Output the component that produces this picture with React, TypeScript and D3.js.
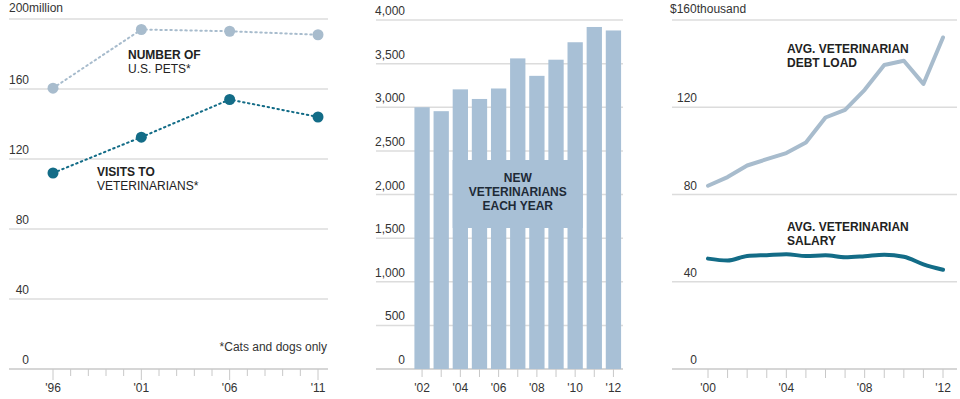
import React from 'react';
import * as d3 from 'd3';

// panel 1: pets and vet visits (millions)
const petYears = [1996, 2001, 2006, 2011];
const petsCount = [160.5, 194, 193, 191];
const vetVisits = [112, 132.5, 154, 144];
const petTicks = [0, 40, 80, 120, 160, 200];

// panel 2: new veterinarians per year
const gradYears = [2002, 2003, 2004, 2005, 2006, 2007, 2008, 2009, 2010, 2011, 2012];
const newVets = [3000, 2955, 3205, 3095, 3215, 3560, 3360, 3545, 3745, 3920, 3880];
const gradTicks = [0, 500, 1000, 1500, 2000, 2500, 3000, 3500, 4000];

// panel 3: debt and salary (thousands $)
const moneyYears = [2000, 2001, 2002, 2003, 2004, 2005, 2006, 2007, 2008, 2009, 2010, 2011, 2012];
const debtLoad = [84, 88, 93.3, 96.2, 99, 103.8, 115.3, 118.8, 128, 139.4, 141.3, 130.7, 152];
const salary = [50.6, 49.7, 51.8, 52.2, 52.6, 51.8, 52.1, 51.2, 51.7, 52.4, 51.5, 48, 45.5];
const moneyTicks = [0, 40, 80, 120, 160];

const FONT = 'Helvetica, Arial, "Liberation Sans", sans-serif';
const GRID = '#dcdcdc';
const AXIS = '#c8c8c8';
const TXT = '#333';
const LIGHT = '#a8bccd';
const DARK = '#136c87';
const BAR = '#a8c0d6';

const yBase = 369;
const yTop = 20;

const fmtYear = (y: number) => "'" + String(y).slice(2);

function YGrid({ y, ticks, x0, x1, labelX, skipTop, fmt }: any) {
  return (
    <g>
      {ticks.map((t: number, i: number) => (
        <g key={t}>
          {i > 0 && <line x1={x0} x2={x1} y1={y(t)} y2={y(t)} stroke={GRID} strokeWidth={1.5} />}
          {!(skipTop && i === ticks.length - 1) && (
            <text x={labelX} y={y(t) - 5} textAnchor="end" fontSize={12} fill={TXT}>
              {fmt ? fmt(t) : t}
            </text>
          )}
        </g>
      ))}
      <line x1={x0} x2={x1} y1={yBase} y2={yBase} stroke={AXIS} strokeWidth={1.5} />
    </g>
  );
}

function PetsPanel() {
  const x = d3.scaleLinear().domain([1996, 2011]).range([53, 318]);
  const y = d3.scaleLinear().domain([0, 200]).range([yBase, yTop - 1]);
  const line = d3.line<number>().x((_, i) => x(petYears[i])).y(d => y(d));
  const years = d3.range(1996, 2012);
  return (
    <g>
      <YGrid y={y} ticks={petTicks} x0={9} x1={328} labelX={29} skipTop />
      <text x={9} y={y(200) - 7} fontSize={12} fill={TXT}>200million</text>
      {years.map(yr => (
        <line key={yr} x1={x(yr)} x2={x(yr)} y1={yBase} y2={yBase + ((yr - 1996) % 5 === 0 ? 11 : 7)} stroke={AXIS} strokeWidth={1} />
      ))}
      {petYears.map(yr => (
        <text key={yr} x={x(yr)} y={392} textAnchor="middle" fontSize={12} fill={TXT}>{fmtYear(yr)}</text>
      ))}
      <path d={line(petsCount) || ''} fill="none" stroke={LIGHT} strokeWidth={2} strokeDasharray="1.5,3.5" strokeLinecap="round" />
      <path d={line(vetVisits) || ''} fill="none" stroke={DARK} strokeWidth={2} strokeDasharray="1.5,3.5" strokeLinecap="round" />
      {petsCount.map((v, i) => <circle key={'p' + i} cx={x(petYears[i])} cy={y(v)} r={5.5} fill={LIGHT} />)}
      {vetVisits.map((v, i) => <circle key={'v' + i} cx={x(petYears[i])} cy={y(v)} r={5.5} fill={DARK} />)}
      <text x={128} y={59} fontSize={12} fill="#222" fontWeight="bold">NUMBER OF</text>
      <text x={128} y={73} fontSize={12} fill="#222">U.S. PETS*</text>
      <text x={97} y={176} fontSize={12} fill="#222" fontWeight="bold">VISITS TO</text>
      <text x={97} y={190} fontSize={12} fill="#222">VETERINARIANS*</text>
      <text x={327} y={351} textAnchor="end" fontSize={12} fill={TXT}>*Cats and dogs only</text>
    </g>
  );
}

function GradsPanel() {
  const x = d3.scaleBand<number>().domain(gradYears).range([412.5, 623]).paddingInner(0.2).paddingOuter(0.1);
  const y = d3.scaleLinear().domain([0, 4000]).range([yBase, yTop]);
  const fmt = d3.format(',');
  const bx0 = x(2004)!;
  const bx1 = x(2010)! + x.bandwidth();
  const cx = (bx0 + bx1) / 2;
  return (
    <g>
      <YGrid y={y} ticks={gradTicks} x0={376} x1={623} labelX={405} fmt={fmt} />
      {gradYears.map((yr, i) => (
        <rect key={yr} x={x(yr)} y={y(newVets[i])} width={x.bandwidth()} height={yBase - y(newVets[i])} fill={BAR} />
      ))}
      <rect x={bx0} y={160} width={bx1 - bx0} height={68} fill={BAR} />
      <text x={cx} y={182} textAnchor="middle" fontSize={12} fontWeight="bold" fill="#1e2a36">NEW</text>
      <text x={cx} y={196} textAnchor="middle" fontSize={12} fontWeight="bold" fill="#1e2a36">VETERINARIANS</text>
      <text x={cx} y={210} textAnchor="middle" fontSize={12} fontWeight="bold" fill="#1e2a36">EACH YEAR</text>
      {gradYears.map(yr => {
        const c = x(yr)! + x.bandwidth() / 2;
        return (
          <g key={yr}>
            <line x1={c} x2={c} y1={yBase} y2={yBase + 8} stroke={AXIS} strokeWidth={1} />
            {yr % 2 === 0 && <text x={c} y={392} textAnchor="middle" fontSize={12} fill={TXT}>{fmtYear(yr)}</text>}
          </g>
        );
      })}
    </g>
  );
}

function MoneyPanel() {
  const x = d3.scaleLinear().domain([2000, 2012]).range([708, 943]);
  const y = d3.scaleLinear().domain([0, 160]).range([yBase, yTop]);
  const line = d3.line<number>().x((_, i) => x(moneyYears[i])).y(d => y(d));
  return (
    <g>
      <YGrid y={y} ticks={moneyTicks} x0={672} x1={957} labelX={697} skipTop />
      <text x={670} y={y(160) - 7} fontSize={12} fill={TXT}>$160thousand</text>
      {moneyYears.map(yr => (
        <g key={yr}>
          <line x1={x(yr)} x2={x(yr)} y1={yBase} y2={yBase + 9} stroke={AXIS} strokeWidth={1} />
          {yr % 4 === 0 && <text x={x(yr)} y={392} textAnchor="middle" fontSize={12} fill={TXT}>{fmtYear(yr)}</text>}
        </g>
      ))}
      <path d={line(debtLoad) || ''} fill="none" stroke={LIGHT} strokeWidth={4} strokeLinejoin="round" strokeLinecap="round" />
      <path d={line.curve(d3.curveMonotoneX)(salary) || ''} fill="none" stroke={DARK} strokeWidth={4} strokeLinejoin="round" strokeLinecap="round" />
      <text x={787} y={53} fontSize={12} fontWeight="bold" fill="#222">AVG. VETERINARIAN</text>
      <text x={787} y={67} fontSize={12} fontWeight="bold" fill="#222">DEBT LOAD</text>
      <text x={787} y={231} fontSize={12} fontWeight="bold" fill="#222">AVG. VETERINARIAN</text>
      <text x={787} y={245} fontSize={12} fontWeight="bold" fill="#222">SALARY</text>
    </g>
  );
}

export default function App() {
  return (
    <svg width={960} height={399} style={{ position: 'absolute', left: 0, top: 0, fontFamily: FONT, background: '#fff' }}>
      <rect width={960} height={399} fill="#fff" />
      <PetsPanel />
      <GradsPanel />
      <MoneyPanel />
    </svg>
  );
}
